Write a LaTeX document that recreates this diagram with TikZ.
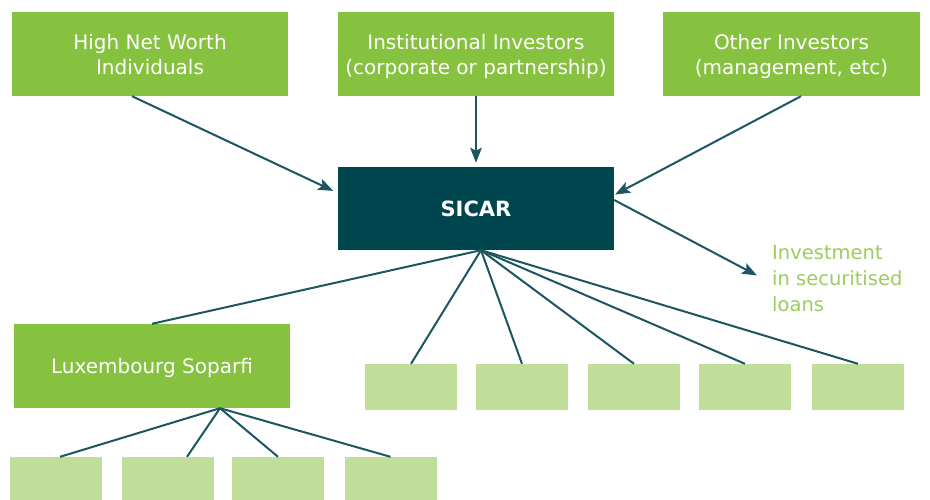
\documentclass[tikz,border=0pt]{standalone}
\usepackage{fontspec}
\setmainfont{DejaVu Sans}
\usepackage{tikz}
\usetikzlibrary{arrows.meta, positioning}
\definecolor{Fund_Green}{HTML}{86C13F}
\definecolor{Fund_Teal}{HTML}{00464F}
\definecolor{Fund_Pale}{HTML}{C0DD9A}
\definecolor{Fund_Line}{HTML}{1B5661}
\definecolor{Fund_Text}{HTML}{9CCC5C}

\begin{document}
\begin{tikzpicture}[x=1pt, y=-1pt,
    investor/.style={fill=Fund_Green, text=white, minimum width=276pt, minimum height=84pt,
        inner sep=0pt, align=center, text depth=-5.5pt, font=\fontsize{20}{25}\selectfont},
    holding/.style={fill=Fund_Pale, minimum width=92pt, minimum height=46pt, inner sep=0pt},
    flow/.style={draw=Fund_Line, line width=2pt, -{Stealth[length=15pt, width=11.5pt, inset=3pt]}},
    link/.style={draw=Fund_Line, line width=2pt}]
    \useasboundingbox (0,0) rectangle (930,500);

    % Investors - Row 0 (top)
    \node[investor] (hnwi) at (150,54) {High Net Worth\\Individuals};
    \node[investor] (inst) at (476,54) {Institutional Investors\\(corporate or partnership)};
    \node[investor, minimum width=257pt] (other) at (791.5,54) {Other Investors\\(management, etc)};

    % SICAR
    \node[investor, fill=Fund_Teal, minimum height=83pt, text depth=-2pt,
        font=\fontsize{21}{25}\selectfont\bfseries] (sicar) at (476,208.5) {SICAR};

    % Securitised loans
    \node[anchor=west, inner sep=0pt, align=left, text=Fund_Text,
        font=\fontsize{19.5}{26}\selectfont] (loans) at (772,279) {Investment\\in securitised\\loans};

    % Soparfi
    \node[investor, text depth=-4pt] (soparfi) at (152,366) {Luxembourg Soparfi};

    % Holdings
    \foreach \x [count=\i] in {411,522,634,745,858}
        \node[holding] (sub\i) at (\x,387) {};
    \foreach \x [count=\i] in {56,168,278,390.5}
        \node[holding] (spv\i) at (\x,480) {};

    % Investor flows
    \draw[flow, shorten >=5pt] ([xshift=-18pt]hnwi.south) -- ([yshift=15.5pt]sicar.west);
    \draw[flow, shorten >=4pt] (inst.south) -- (sicar.north);
    \draw[flow, shorten >=1pt] ([xshift=9.5pt]other.south) -- ([yshift=13.5pt]sicar.east);
    \draw[flow, shorten >=17pt] ([yshift=8.5pt]sicar.east) -- ([yshift=-4.4pt]loans.west);

    % SICAR tree
    \coordinate (hub) at ([xshift=5pt]sicar.south);
    \draw[link] (hub) -- (soparfi.north);
    \foreach \i in {1,...,5}
        \draw[link] (hub) -- (sub\i.north);

    % Soparfi tree
    \coordinate (sophub) at ([xshift=68pt]soparfi.south);
    \foreach \i/\s in {1/4,2/19,3/0,4/0}
        \draw[link] (sophub) -- ([xshift=\s pt]spv\i.north);
\end{tikzpicture}
\end{document}
